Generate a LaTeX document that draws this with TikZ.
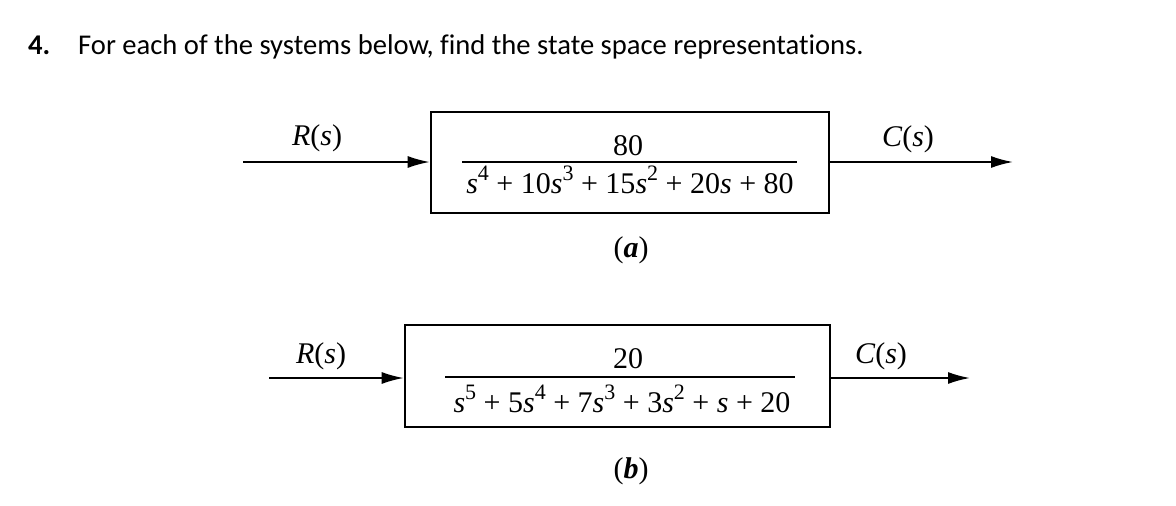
\documentclass[tikz,border=0pt]{standalone}
\usepackage{fontspec}
\setmainfont{Liberation Serif}
\newfontfamily\titlefont[Ligatures=NoCommon]{Carlito}
\usetikzlibrary{arrows.meta}
\newcommand\sps[1]{\raisebox{0.42em}{\fontsize{22}{22}\selectfont #1}}
\newcommand\pl{\ {+}\ }
\begin{document}
\begin{tikzpicture}[x=1pt,y=-1pt,
  lbl/.style={font=\fontsize{30}{36}\selectfont, inner sep=0pt, anchor=base},
  ttl/.style={font=\titlefont\fontsize{28.6}{34}\selectfont, inner sep=0pt, anchor=base west},
  blk/.style={draw, line width=2.6pt, inner sep=0pt},
  sig/.style={line width=1.8pt, -{Latex[length=22pt,width=12pt]}},
  bar/.style={line width=1.6pt}]
\useasboundingbox (0,0) rectangle (1176,506);
% title
\node[ttl] (num) at (28,54) {\bfseries 4.};
\node[ttl] (title) at (78,54) {For each of the systems below, find the state space representations.};
% (a)
\node[blk, minimum width=398pt, minimum height=101pt] (boxa) at (630,162.5) {};
\coordinate (ina) at (243,162);
\coordinate (outa) at (1013,162);
\draw[sig] (ina) -- (boxa.west |- ina);
\draw[sig] (boxa.east |- outa) -- (outa);
\node[lbl] (ra) at (317,145) {\textit{R}(\textit{s})};
\node[lbl] (ca) at (908,146) {\textit{C}(\textit{s})};
\coordinate (bla) at (462,162);
\coordinate (bra) at (797,162);
\draw[bar] (bla) -- (bra);
\node[lbl] (numa) at (628,155) {80};
\node[lbl] (dena) at (630,193) {\textit{s}\sps{4}\pl10\textit{s}\sps{3}\pl15\textit{s}\sps{2}\pl20\textit{s}\pl80};
\node[lbl] (capa) at (631,257) {(\textbf{\textit{a}})};
% (b)
\node[blk, minimum width=425pt, minimum height=102pt] (boxb) at (617.5,376) {};
\coordinate (inb) at (269,378);
\coordinate (outb) at (970,378);
\draw[sig] (inb) -- (boxb.west |- inb);
\draw[sig] (boxb.east |- outb) -- (outb);
\node[lbl] (rb) at (321,363) {\textit{R}(\textit{s})};
\node[lbl] (cb) at (881,363) {\textit{C}(\textit{s})};
\coordinate (blb) at (445,377);
\coordinate (brb) at (795,377);
\draw[bar] (blb) -- (brb);
\node[lbl] (numb) at (628,368) {20};
\node[lbl] (denb) at (622,412) {\textit{s}\sps{5}\pl5\textit{s}\sps{4}\pl7\textit{s}\sps{3}\pl3\textit{s}\sps{2}\pl\textit{s}\pl20};
\node[lbl] (capb) at (631,478) {(\textbf{\textit{b}})};
\end{tikzpicture}
\end{document}
